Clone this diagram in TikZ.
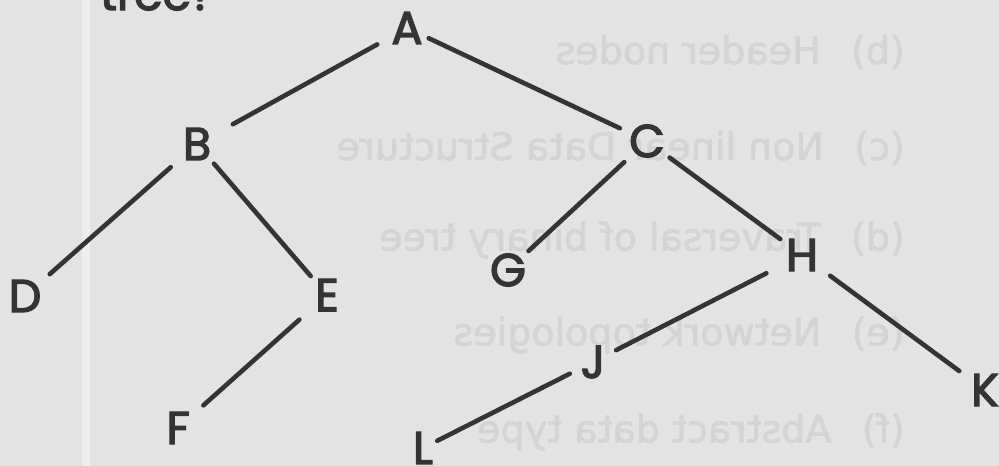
\documentclass[tikz,border=0pt]{standalone}
\usepackage{fontspec}
\setmainfont{Poppins}
\newfontfamily\ghostfont{DejaVu Sans}[FakeBold=2]
\newfontfamily\labelfont{Poppins}[FakeBold=3]
\definecolor{paper}{RGB}{227,227,227}
\definecolor{ink}{RGB}{52,52,52}
\definecolor{ghost}{RGB}{213,211,211}
\tikzset{
  lbl/.style={inner sep=0pt, text=ink, font=\labelfont\fontsize{46}{50}\selectfont},
  edge/.style={draw=ink, line width=4.6pt, line cap=round},
  backtext/.style={xscale=-1, anchor=west, inner sep=0pt, text=ghost,
    font=\ghostfont\fontsize{38}{40}\selectfont},
}
\begin{document}
\begin{tikzpicture}[x=1pt, y=-1pt]
  % sheet of paper
  \fill[paper] (0,0) rectangle (999,466);
  \useasboundingbox (0,0) rectangle (999,466);
  \clip (0,0) rectangle (999,466);
  % pale fold line down the left of the page
  \fill[white, opacity=0.4] (82,0) rectangle (90,466);

  % print showing through from the other side of the sheet
  \node[backtext] (gb) at (905,52)  {(b)\hspace{0.8em}Header nodes};
  \node[backtext] (gc) at (905,148) {(c)\hspace{0.8em}Non linear Data Structure};
  \node[backtext] (gd) at (905,240) {(d)\hspace{0.8em}Traversal of binary tree};
  \node[backtext] (ge) at (905,335) {(e)\hspace{0.8em}Network topologies};
  \node[backtext] (gf) at (905,432) {(f)\hspace{0.8em}Abstract data type};

  % end of the question line above the figure
  \node[anchor=base west, inner sep=0pt, text=ink,
        font=\labelfont\fontsize{46}{50}\selectfont] (q) at (100,10) {tree?};

  % tree nodes
  \node[lbl] (A) at (407,28)  {A};
  \node[lbl] (B) at (197,144) {B};
  \node[lbl] (C) at (647,141) {C};
  \node[lbl] (D) at (25,296)  {D};
  \node[lbl] (E) at (327,295) {E};
  \node[lbl] (F) at (178,428) {F};
  \node[lbl] (G) at (508,270) {G};
  \node[lbl] (H) at (802,255) {H};
  \node[lbl] (J) at (593,362) {J};
  \node[lbl] (K) at (985,390) {K};
  \node[lbl] (L) at (423,448) {L};

  % branches
  \draw[edge, shorten <=34pt, shorten >=41pt] (A.center) -- (B.center);
  \draw[edge, shorten <=24pt, shorten >=30pt] (A.center) -- (C.center);
  \draw[edge, shorten <=35pt, shorten >=33pt] (B.center) -- (D.center);
  \draw[edge, shorten <=26pt, shorten >=25pt] (B.center) -- (E.center);
  \draw[edge, shorten <=31pt, shorten >=28pt] (C.center) -- (G.center);
  \draw[edge, shorten <=28pt, shorten >=27pt] (C.center) -- (H.center);
  \draw[edge, shorten <=37pt, shorten >=34pt] (E.center) -- (F.center);
  \draw[edge, shorten <=40pt, shorten >=26pt] (H.center) -- (J.center);
  \draw[edge, shorten <=35pt, shorten >=32pt] (H.center) -- (K.center);
  \draw[edge, shorten <=26pt, shorten >=16pt] (J.center) -- (L.center);
\end{tikzpicture}
\end{document}
